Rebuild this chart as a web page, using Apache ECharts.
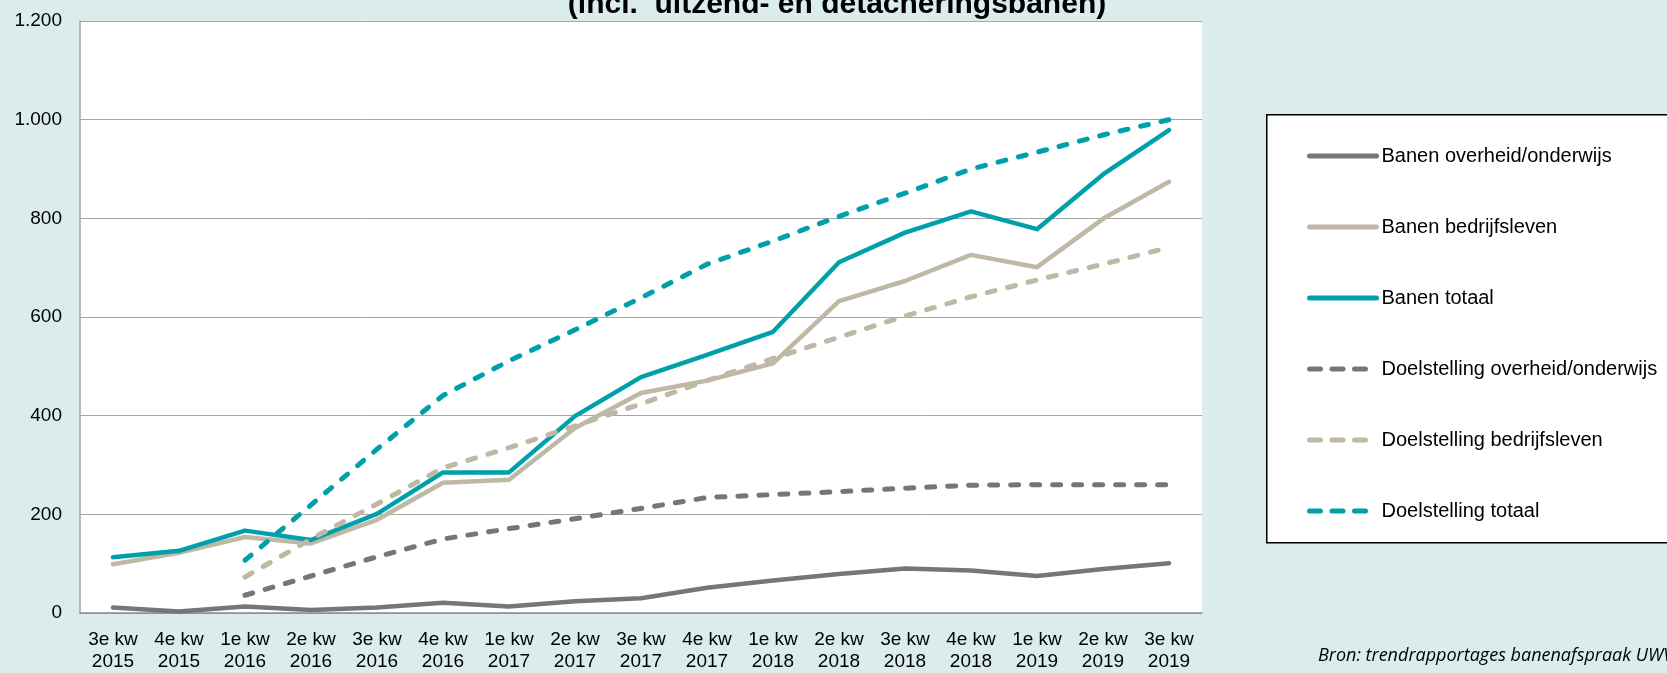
<!DOCTYPE html>
<html>
<head>
<meta charset="utf-8">
<script src="https://cdn.jsdelivr.net/npm/echarts@6/dist/echarts.min.js"></script>
<style>
html,body{margin:0;padding:0;background:#DAEDEC;}
#chart{width:1667px;height:673px;}
</style>
</head>
<body>
<div id="chart"></div>
<script>
const categories = ["3e kw\n2015","4e kw\n2015","1e kw\n2016","2e kw\n2016","3e kw\n2016","4e kw\n2016","1e kw\n2017","2e kw\n2017","3e kw\n2017","4e kw\n2017","1e kw\n2018","2e kw\n2018","3e kw\n2018","4e kw\n2018","1e kw\n2019","2e kw\n2019","3e kw\n2019"];
const banenOverheid = [11,3,13,6,11,21,13,24,30,51,66,79,90,86,75,89,101];
const banenBedrijfsleven = [99,122,154,141,189,264,270,375,446,471,506,632,673,726,701,799,874];
const banenTotaal = [113,126,167,148,201,285,285,399,478,523,570,711,771,814,778,889,979];
const doelOverheid = [null,null,36,75,114,150,171,191,212,234,240,246,253,259,260,260,260];
const doelBedrijfsleven = [null,null,73,150,221,294,335,379,424,471,516,559,602,641,675,707,741];
const doelTotaal = [null,null,107,219,332,441,511,574,639,707,754,804,851,900,934,969,1000];
const seriesNames = ["Banen overheid/onderwijs","Banen bedrijfsleven","Banen totaal","Doelstelling overheid/onderwijs","Doelstelling bedrijfsleven","Doelstelling totaal"];
const titleText = "(incl.  uitzend- en detacheringsbanen)";
const sourceText = "Bron: trendrapportages banenafspraak UWV";

const GREY = "#767676", BEIGE = "#BFB8A5", TEAL = "#00A0AA";
const FONT = "Liberation Sans, Arial, sans-serif";

function mk(name, data, color, dashed) {
  return {
    name: name, type: "line", data: data, symbol: "none", connectNulls: false,
    lineStyle: dashed
      ? {color: color, width: 5, type: [8, 13], cap: "round", join: "round"}
      : {color: color, width: 4.5, cap: "round", join: "round"},
    itemStyle: {color: color},
    emphasis: {disabled: true},
    animation: false
  };
}

const chart = echarts.init(document.getElementById("chart"), null, {renderer: "canvas"});
chart.setOption({
  backgroundColor: "#DAEDEC",
  animation: false,
  textStyle: {fontFamily: FONT},
  grid: {left: 80, right: 465, top: 21, bottom: 57, containLabel: false, show: true, backgroundColor: "#FFFFFF", borderWidth: 0},
  xAxis: {
    type: "category", data: categories, boundaryGap: true,
    axisLine: {show: true, lineStyle: {color: "#8C8C8C", width: 1.5}},
    axisTick: {show: false},
    axisLabel: {color: "#000", fontSize: 19, lineHeight: 22, margin: 16, interval: 0, fontFamily: FONT}
  },
  yAxis: {
    type: "value", min: 0, max: 1200, interval: 200,
    axisLine: {show: true, lineStyle: {color: "#A6A6A6", width: 1.5}},
    axisTick: {show: false},
    splitLine: {show: true, lineStyle: {color: "#A6A6A6", width: 1}},
    axisLabel: {color: "#000", fontSize: 19, margin: 18, fontFamily: FONT,
      formatter: function (v) { return v.toString().replace(/\B(?=(\d{3})+(?!\d))/g, "."); }}
  },
  legend: {
    orient: "vertical", left: 1302, top: 141, itemWidth: 67, itemHeight: 20, itemGap: 51,
    textStyle: {fontSize: 20, color: "#000", fontFamily: FONT},
    selectedMode: false,
    data: seriesNames.map(function (n, i) {
      return {
        name: n,
        itemStyle: {opacity: 0, color: "rgba(0,0,0,0)", borderWidth: 0},
        lineStyle: i >= 3 ? {type: [11, 11.5], width: 5, cap: "round"} : {width: 5, cap: "round"}
      };
    })
  },
  graphic: [
    {type: "rect", left: 1266, top: 114, z: -1, shape: {width: 420, height: 428},
      style: {fill: "#FFFFFF", stroke: "#000000", lineWidth: 1.5}},
    {type: "text", x: 837, y: 20, style: {text: titleText, font: "bold 30px " + FONT, fill: "#000", align: "center", verticalAlign: "bottom"}},
    {type: "text", x: 1318, y: 656, style: {text: sourceText, font: "italic 18px Open Sans, sans-serif", fill: "#000", align: "left", verticalAlign: "middle"}}
  ],
  series: [
    mk(seriesNames[0], banenOverheid, GREY, false),
    mk(seriesNames[1], banenBedrijfsleven, BEIGE, false),
    mk(seriesNames[2], banenTotaal, TEAL, false),
    mk(seriesNames[3], doelOverheid, GREY, true),
    mk(seriesNames[4], doelBedrijfsleven, BEIGE, true),
    mk(seriesNames[5], doelTotaal, TEAL, true)
  ]
});
</script>
</body>
</html>
